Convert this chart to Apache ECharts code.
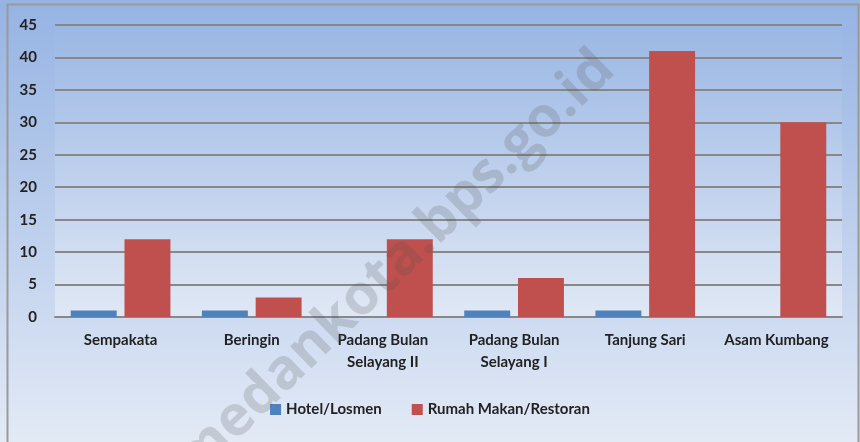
<!DOCTYPE html>
<html>
<head>
<meta charset="utf-8">
<script src="https://cdn.jsdelivr.net/npm/echarts@6/dist/echarts.min.js"></script>
<style>
    html, body { margin: 0; padding: 0; }
    #chart { width: 860px; height: 442px; }
</style>
</head>
<body>
<div id="chart"></div>
<script>
    const categories = ['Sempakata', 'Beringin', 'Padang Bulan\nSelayang II', 'Padang Bulan\nSelayang I', 'Tanjung Sari', 'Asam Kumbang'];
    const hotel = [1, 1, 0, 1, 1, 0];
    const rumahMakan = [12, 3, 12, 6, 41, 30];
    const seriesNames = ['Hotel/Losmen', 'Rumah Makan/Restoran'];

    const font = 'Lato, "Open Sans", sans-serif';
    const grad = (a, b) => new echarts.graphic.LinearGradient(0, 0, 0, 1, [
        {offset: 0, color: a},
        {offset: 1, color: b}
    ]);

    let chart = echarts.init(document.getElementById('chart'));
    chart.setOption({
        backgroundColor: grad('#95b3e3', '#e3eaf6'),
        color: ['#4f81bd', '#c0504d'],
        animation: false,
        grid: {
            left: 55, right: 18, top: 25, bottom: 125,
            show: true,
            borderWidth: 0,
            backgroundColor: grad('#9bb7e4', '#e0e8f5')
        },
        legend: {
            bottom: 20,
            left: 'center',
            itemWidth: 11,
            itemHeight: 11,
            itemGap: 30,
            icon: 'rect',
            textStyle: {fontFamily: font, fontSize: 15, fontWeight: 'bold', color: '#222'},
            data: seriesNames
        },
        xAxis: {
            type: 'category',
            data: categories,
            axisTick: {show: false},
            axisLine: {lineStyle: {color: '#888', width: 2}},
            axisLabel: {
                margin: 12,
                interval: 0,
                lineHeight: 22,
                fontFamily: font, fontSize: 15, fontWeight: 'bold', color: '#222'
            }
        },
        yAxis: {
            type: 'value',
            min: 0, max: 45, interval: 5,
            axisLine: {show: false},
            axisTick: {show: false},
            splitLine: {lineStyle: {color: '#888', width: 2}},
            axisLabel: {margin: 18, fontFamily: font, fontSize: 15, fontWeight: 'bold', color: '#222'}
        },
        series: [
            {
                name: seriesNames[0], type: 'bar', data: hotel,
                barGap: '17%', barCategoryGap: '24%'
            },
            {
                name: seriesNames[1], type: 'bar', data: rumahMakan,
                barGap: '17%', barCategoryGap: '24%'
            }
        ],
        graphic: [
            {
                type: 'rect', left: 5, top: 2, silent: true,
                shape: {width: 851, height: 445},
                style: {fill: 'none', stroke: '#9a9a9a', lineWidth: 2}
            },
            {
                type: 'text', x: 395, y: 265, rotation: Math.PI * 0.245, silent: true, z: 100,
                style: {
                    text: 'medankota.bps.go.id',
                    fontFamily: '"Open Sans", sans-serif', fontSize: 56, fontWeight: 'bold',
                    fill: 'rgba(80,80,80,0.2)',
                    align: 'center', verticalAlign: 'middle'
                }
            }
        ]
    });
</script>
</body>
</html>
